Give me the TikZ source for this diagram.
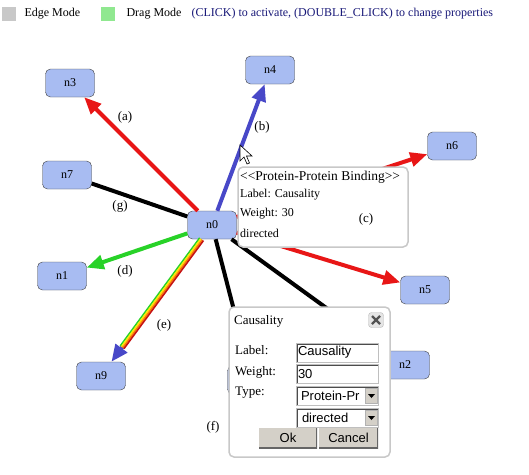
\documentclass[tikz,border=0pt]{standalone}
\usepackage{fontspec}
\setmainfont{Liberation Serif}
\newfontfamily\uifont{Liberation Sans}
\usetikzlibrary{arrows.meta,calc}
\definecolor{nodeblue}{RGB}{168,188,242}
\definecolor{edgered}{RGB}{232,22,22}
\definecolor{edgeblue}{RGB}{72,72,200}
\definecolor{edgegreen}{RGB}{40,210,40}
\definecolor{hintnavy}{RGB}{24,24,120}
\definecolor{panelgray}{RGB}{200,200,200}
\definecolor{btngray}{RGB}{212,208,200}
\definecolor{modegreen}{RGB}{144,232,144}

\begin{document}
\begin{tikzpicture}[x=1pt, y=-1pt,
  every node/.style={font=\fontsize{12}{14}\selectfont},
  vertex/.style={draw=black!75, fill=nodeblue, rounded corners=5pt,
    minimum width=49pt, minimum height=28pt, inner sep=0pt},
  link/.style={line width=4pt},
  head/.style={-{Triangle[length=17pt,width=14pt]}},
  panel/.style={draw=panelgray, fill=white, line width=1.5pt, rounded corners=5pt, inner sep=0pt},
  ui/.style={font=\uifont\fontsize{13}{15}\selectfont, inner sep=0pt},
  field/.style={draw=gray!50, fill=white, minimum width=82pt, minimum height=19pt, inner sep=0pt,
    path picture={\draw[black!70, line width=3pt] (path picture bounding box.south west)
      -- (path picture bounding box.north west) -- (path picture bounding box.north east);}},
  button/.style={fill=btngray, minimum height=20pt, inner sep=0pt, font=\uifont\fontsize{13}{15}\selectfont,
    path picture={\draw[black!60, line width=3pt] (path picture bounding box.south west)
      -- (path picture bounding box.south east) -- (path picture bounding box.north east);}},
  dropbtn/.style={fill=btngray, draw=gray!60, minimum width=12pt, minimum height=15pt, inner sep=0pt},
  mark label/.style={font=\fontsize{13}{15}\selectfont}]
  \useasboundingbox (0,0) rectangle (529,474);
  \fill[white] (0,0) rectangle (529,474);

  % mode bar
  \fill[panelgray] (2,7) rectangle (16,21);
  \node[anchor=west] (edgemode) at (21,14) {Edge Mode};
  \fill[modegreen] (101,7) rectangle (115,21);
  \node[anchor=west] (dragmode) at (123,14) {Drag Mode};
  \node[anchor=west, hintnavy] (hint) at (188,14) {(CLICK) to activate, (DOUBLE\_CLICK) to change properties};

  % graph
  \node[vertex] (n0) at (212,225) {n0};
  \node[vertex] (n1) at (62,276) {n1};
  \node[vertex] (n2) at (405,365) {n2};
  \node[vertex] (n3) at (70,83) {n3};
  \node[vertex] (n4) at (270,70) {n4};
  \node[vertex] (n5) at (425,290) {n5};
  \node[vertex] (n6) at (452,146) {n6};
  \node[vertex] (n7) at (67,175) {n7};
  \node[vertex] (n8) at (252,380) {};
  \node[vertex] (n9) at (101,376) {n9};

  \draw[link, edgered, head] (n0) -- (n3);
  \draw[link, edgeblue, head] (n0) -- (n4);
  \draw[link, edgered, head] (n0) -- (n6);
  \draw[link, edgered, head] (n0) -- (n5);
  \draw[link, edgegreen, head] (n0) -- (n1);
  \draw[link, black] (n0) -- (n7);
  \draw[link, black] (n0) -- (n8);
  \draw[link, black] (n0) -- (n2);
  \draw[link, edgeblue, head] ($(n0)!0.8!(n9)$) -- (n9);
  \foreach \col/\off in {edgegreen/-2.3, yellow!90!orange/-0.8, orange/0.8, edgered!85!black/2.3}
    \draw[\col, line width=1.6pt, transform canvas={shift={(0.81*\off,0.59*\off)}}]
      (n0) -- ($(n0)!0.81!(n9)$);

  \node[mark label] (la) at (125,117) {(a)};
  \node[mark label] (lb) at (262,127) {(b)};
  \node[mark label] (lg) at (120,206) {(g)};
  \node[mark label] (ld) at (125,271) {(d)};
  \node[mark label] (le) at (164,325) {(e)};
  \node[mark label] (lf) at (213,427) {(f)};

  % cursor
  \draw[fill=white, line join=miter, line width=0.6pt] (240,145) -- ++(0,16) -- ++(4,-4)
    -- ++(3,7) -- ++(2.5,-1) -- ++(-3,-7) -- ++(5.5,0) -- cycle;

  % tooltip
  \node[panel, minimum width=170pt, minimum height=80pt] (tooltip) at (323,207) {};
  \node[anchor=west, inner sep=0pt, font=\fontsize{13.5}{15}\selectfont] (ttitle) at (240,177)
    {\textless{}\textless{}Protein-Protein Binding\textgreater{}\textgreater};
  \node[anchor=west, inner sep=0pt] (tlabel) at (240,195) {Label: Causality};
  \node[anchor=west, inner sep=0pt] (tweight) at (240,214) {Weight: 30};
  \node[anchor=west, inner sep=0pt] (ttype) at (240,233) {directed};
  \node[mark label] (lc) at (366,219) {(c)};

  % properties dialog
  \node[panel, minimum width=161pt, minimum height=150pt] (dialog) at (309.5,382) {};
  \node[anchor=west, inner sep=0pt, font=\fontsize{13}{15}\selectfont] (dtitle) at (234,321) {Causality};
  \node[draw=gray!55, fill=gray!20, rounded corners=3pt, minimum size=15pt, inner sep=0pt] (close) at (376,320) {};
  \draw[gray!65!black, line width=2.4pt] ($(close)+(-4,-4)$) -- ($(close)+(4,4)$)
    ($(close)+(-4,4)$) -- ($(close)+(4,-4)$);
  \node[anchor=west, inner sep=0pt, font=\fontsize{13}{15}\selectfont] (dlabel) at (235,350) {Label:};
  \node[anchor=west, inner sep=0pt, font=\fontsize{13}{15}\selectfont] (dweight) at (235,372) {Weight:};
  \node[anchor=west, inner sep=0pt, font=\fontsize{13}{15}\selectfont] (dtype) at (235,393) {Type:};

  \node[field] (labelbox) at (337,352.5) {};
  \node[ui, anchor=west] at ([xshift=2pt]labelbox.west) {Causality};
  \node[field] (weightbox) at (337,374) {};
  \node[ui, anchor=west] at ([xshift=2pt]weightbox.west) {30};
  \node[field] (typebox) at (337,395.5) {};
  \node[ui, anchor=west] at ([xshift=5pt]typebox.west) {Protein-Pr};
  \node[dropbtn] (typedrop) at (371.5,395.5) {};
  \fill ($(typedrop)+(-3.5,-1.5)$) -- ++(7,0) -- ++(-3.5,4) -- cycle;
  \node[field] (dirbox) at (337,417.5) {};
  \node[ui, anchor=west] at ([xshift=6pt]dirbox.west) {directed};
  \node[dropbtn] (dirdrop) at (371.5,417.5) {};
  \fill ($(dirdrop)+(-3.5,-1.5)$) -- ++(7,0) -- ++(-3.5,4) -- cycle;

  \node[button, minimum width=58pt] (okbtn) at (288,438) {Ok};
  \node[button, minimum width=59pt] (cancelbtn) at (348.5,438) {Cancel};
\end{tikzpicture}
\end{document}
